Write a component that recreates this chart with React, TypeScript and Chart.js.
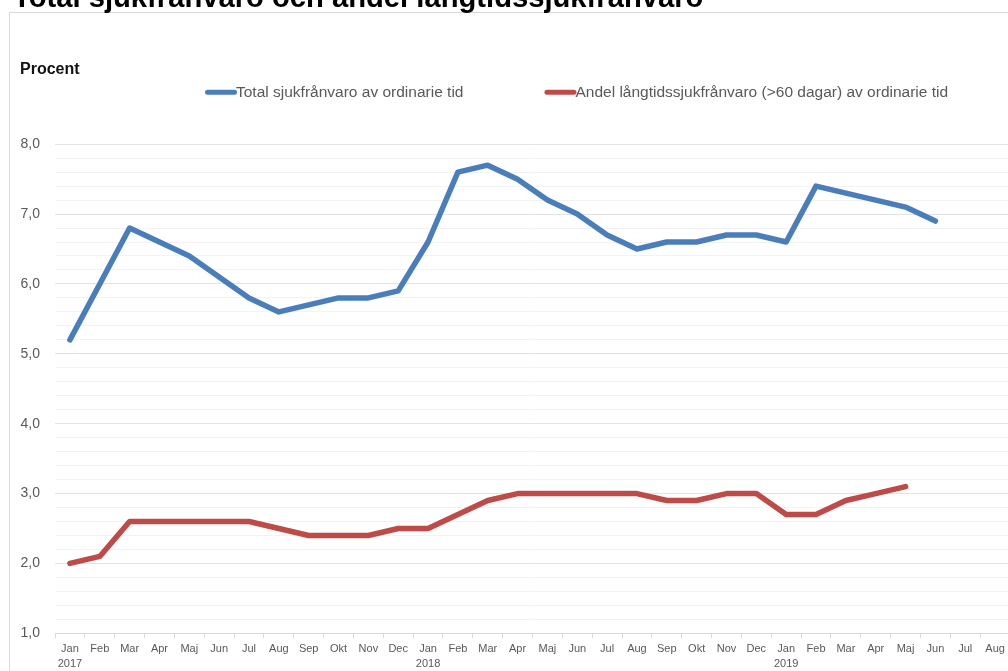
import React, { useEffect, useRef } from "react";
import { Chart, registerables } from "chart.js";

Chart.register(...registerables);

const months = ["Jan","Feb","Mar","Apr","Maj","Jun","Jul","Aug","Sep","Okt","Nov","Dec","Jan","Feb","Mar","Apr","Maj","Jun","Jul","Aug","Sep","Okt","Nov","Dec","Jan","Feb","Mar","Apr","Maj","Jun","Jul","Aug"];
const yearLabels: (string | null)[] = ["2017",null,null,null,null,null,null,null,null,null,null,null,"2018",null,null,null,null,null,null,null,null,null,null,null,"2019",null,null,null,null,null,null,null];

const totalLabel = "Total sjukfrånvaro av ordinarie tid";
const longLabel = "Andel långtidssjukfrånvaro (>60 dagar) av ordinarie tid";

const totalValues = [5.2,6.0,6.8,6.6,6.4,6.1,5.8,5.6,5.7,5.8,5.8,5.9,6.6,7.6,7.7,7.5,7.2,7.0,6.7,6.5,6.6,6.6,6.7,6.7,6.6,7.4,7.3,7.2,7.1,6.9,null,null];
const longValues = [2.0,2.1,2.6,2.6,2.6,2.6,2.6,2.5,2.4,2.4,2.4,2.5,2.5,2.7,2.9,3.0,3.0,3.0,3.0,3.0,2.9,2.9,3.0,3.0,2.7,2.7,2.9,3.0,3.1,null,null,null];

const FONT = "'Liberation Sans', Arial, sans-serif";

const legendPlugin = {
  id: "topLegend",
  afterDraw(chart: any) {
    const ctx = chart.ctx;
    const area = chart.chartArea;
    const y = area.top - 52;
    let x = area.left + 150;
    ctx.save();
    ctx.font = `15.5px ${FONT}`;
    ctx.textBaseline = "middle";
    ctx.textAlign = "left";
    chart.data.datasets.forEach((ds: any) => {
      ctx.strokeStyle = ds.borderColor;
      ctx.lineWidth = 5;
      ctx.lineCap = "round";
      ctx.beginPath();
      ctx.moveTo(x + 2.5, y);
      ctx.lineTo(x + 29.5, y);
      ctx.stroke();
      ctx.fillStyle = "#595959";
      ctx.fillText(ds.label, x + 31, y + 1);
      const w = ctx.measureText(ds.label).width;
      x = x + 31 + w + 81;
    });
    ctx.restore();
  },
};

export default function App() {
  const ref = useRef<HTMLCanvasElement | null>(null);
  useEffect(() => {
    if (!ref.current) return;
    const labels = months.map((m, i) => (yearLabels[i] ? [m, yearLabels[i] as string] : m));
    const chart = new Chart(ref.current, {
      type: "line",
      data: {
        labels,
        datasets: [
          {
            label: totalLabel,
            data: totalValues,
            borderColor: "#4A7EBB",
            backgroundColor: "#4A7EBB",
            borderWidth: 5.5,
            pointRadius: 0,
            tension: 0,
            borderCapStyle: "round",
            borderJoinStyle: "round",
          },
          {
            label: longLabel,
            data: longValues,
            borderColor: "#BE4B48",
            backgroundColor: "#BE4B48",
            borderWidth: 5.5,
            pointRadius: 0,
            tension: 0,
            borderCapStyle: "round",
            borderJoinStyle: "round",
          },
        ],
      },
      options: {
        responsive: false,
        animation: false,
        layout: { padding: { left: 10, right: 40, top: 0, bottom: 19 } },
        plugins: {
          legend: { display: false },
          tooltip: { enabled: false },
          title: {
            display: true,
            text: "Procent",
            align: "start",
            color: "#111",
            font: { family: FONT, size: 16, weight: "bold" },
            padding: { top: 47, bottom: 65 },
          },
        },
        scales: {
          x: {
            type: "category",
            offset: true,
            grid: {
              display: true,
              drawOnChartArea: false,
              drawTicks: true,
              tickLength: 5,
              color: "#d9d9d9",
              offset: true,
            },
            border: { display: true, color: "#d9d9d9" },
            ticks: {
              autoSkip: false,
              maxRotation: 0,
              padding: 3,
              color: "#595959",
              font: { family: FONT, size: 11, lineHeight: 1.35 },
            },
          },
          y: {
            min: 1,
            max: 8,
            afterFit: (scale: any) => {
              scale.width = 35;
            },
            grid: {
              drawTicks: false,
              color: (c: any) =>
                c.tick && Math.abs(c.tick.value - Math.round(c.tick.value)) < 1e-6 ? "#e3e3e3" : "#f3f3f3",
            },
            border: { display: false },
            ticks: {
              stepSize: 0.2,
              autoSkip: false,
              padding: 15,
              color: "#595959",
              font: { family: FONT, size: 14 },
              callback: (v: any) => {
                const n = Number(v);
                return Math.abs(n - Math.round(n)) < 1e-6 ? n.toFixed(1).replace(".", ",") : "";
              },
            },
          },
        },
      },
      plugins: [legendPlugin],
    });
    return () => chart.destroy();
  }, []);

  return (
    <div style={{ position: "fixed", left: 0, top: 0, width: 1008, height: 671, overflow: "hidden", background: "#fff" }}>
      <div style={{ position: "absolute", left: 9, top: 12, width: 1100, height: 720, border: "1px solid #d9d9d9", boxSizing: "border-box" }}>
        <canvas ref={ref} width={1040} height={680} style={{ position: "absolute", left: 0, top: 0, width: 1040, height: 680 }} />
      </div>
      <div style={{ position: "absolute", left: 13, top: -19, fontFamily: FONT, fontWeight: "bold", fontSize: 29.2, color: "#000", whiteSpace: "nowrap" }}>
        Total sjukfrånvaro och andel långtidssjukfrånvaro
      </div>
    </div>
  );
}
